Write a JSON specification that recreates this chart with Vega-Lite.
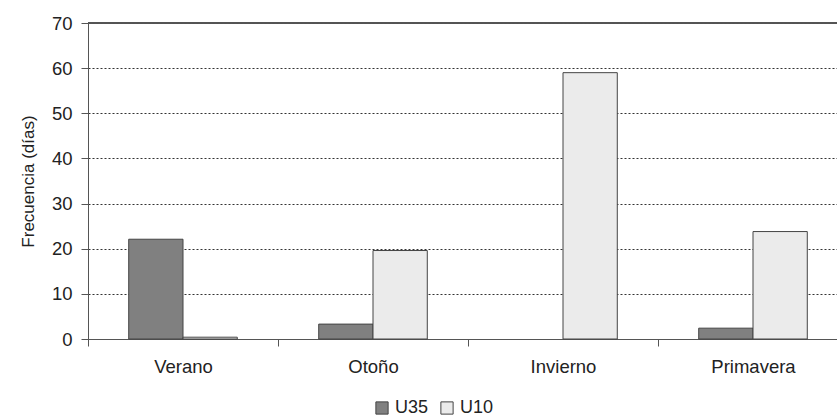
{
  "$schema": "https://vega.github.io/schema/vega-lite/v6.json",
  "autosize": {"type": "none"},
  "padding": {"left": 88, "top": 23, "right": 0, "bottom": 81},
  "width": 760,
  "height": 316,
  "config": {
    "font": "Liberation Sans",
    "view": {"stroke": null},
    "axis": {"labelColor": "#222", "titleColor": "#222", "domainColor": "#555", "tickColor": "#555"}
  },
  "data": {
    "values": [
      {"estacion": "Verano", "serie": "U35", "dias": 22.1},
      {"estacion": "Verano", "serie": "U10", "dias": 0.4},
      {"estacion": "Otoño", "serie": "U35", "dias": 3.3},
      {"estacion": "Otoño", "serie": "U10", "dias": 19.6},
      {"estacion": "Invierno", "serie": "U10", "dias": 59},
      {"estacion": "Primavera", "serie": "U35", "dias": 2.4},
      {"estacion": "Primavera", "serie": "U10", "dias": 23.8}
    ]
  },
  "layer": [
    {
      "mark": {"type": "rule", "color": "#555", "strokeWidth": 1},
      "encoding": {"y": {"datum": 70, "type": "quantitative", "scale": {"domain": [0, 70]}}}
    },
    {
      "mark": {"type": "bar", "stroke": "#444", "strokeWidth": 1},
      "encoding": {
        "x": {
          "field": "estacion",
          "type": "nominal",
          "sort": ["Verano", "Otoño", "Invierno", "Primavera"],
          "scale": {"paddingInner": 0, "paddingOuter": 0},
          "axis": {
            "title": null,
            "labelAngle": 0,
            "labelFontSize": 18.5,
            "labelPadding": 11,
            "tickBand": "extent",
            "tickSize": 7,
            "domainColor": "#555"
          }
        },
        "xOffset": {
          "field": "serie",
          "sort": ["U35", "U10"],
          "scale": {"domain": ["U35", "U10"], "paddingInner": 0, "paddingOuter": 0.75}
        },
        "y": {
          "field": "dias",
          "type": "quantitative",
          "scale": {"domain": [0, 70]},
          "axis": {
            "title": "Frecuencia (días)",
            "titleFontSize": 17,
            "titleFontWeight": "normal",
            "titlePadding": 14,
            "labelFontSize": 18.5,
            "labelPadding": 9,
            "labelOverlap": false,
            "values": [0, 10, 20, 30, 40, 50, 60, 70],
            "tickSize": 7,
            "grid": true,
            "gridColor": "#333",
            "gridDash": [2, 2],
            "gridWidth": 1
          }
        },
        "color": {
          "field": "serie",
          "type": "nominal",
          "sort": ["U35", "U10"],
          "scale": {"domain": ["U35", "U10"], "range": ["#808080", "#ebebeb"]},
          "legend": {
            "title": null,
            "orient": "none",
            "direction": "horizontal",
            "legendX": 285,
            "legendY": 376,
            "padding": 0,
            "symbolType": "square",
            "symbolSize": 150,
            "symbolStrokeColor": "#444",
            "symbolStrokeWidth": 1,
            "labelFontSize": 18,
            "labelColor": "#222",
            "labelOffset": 4,
            "columnPadding": 9
          }
        }
      }
    }
  ]
}
